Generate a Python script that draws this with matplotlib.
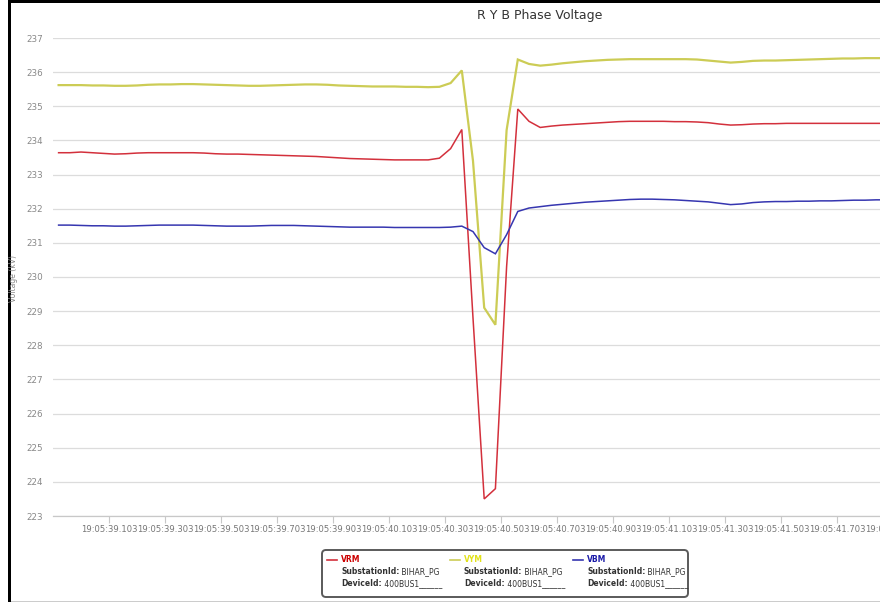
import matplotlib
matplotlib.use("Agg")
import matplotlib.pyplot as plt
from matplotlib.patches import FancyBboxPatch, Rectangle
import numpy as np

# PMU phase voltages (kV), one sample every 40 ms from 19:05:38.903
vrm = [233.64, 233.64, 233.66, 233.64, 233.62, 233.60, 233.61, 233.63, 233.64, 233.64,
       233.64, 233.64, 233.64, 233.63, 233.61, 233.60, 233.60, 233.59, 233.58, 233.57,
       233.56, 233.55, 233.54, 233.53, 233.51, 233.49, 233.47, 233.46, 233.45, 233.44,
       233.43, 233.43, 233.43, 233.43, 233.48, 233.76, 234.32, 228.80, 223.50, 223.80,
       230.30, 234.92, 234.56, 234.38, 234.42, 234.45, 234.47, 234.49, 234.51, 234.53,
       234.55, 234.56, 234.56, 234.56, 234.56, 234.55, 234.55, 234.54, 234.52, 234.48,
       234.45, 234.46, 234.48, 234.49, 234.49, 234.50, 234.50, 234.50, 234.50, 234.50,
       234.50, 234.50, 234.50, 234.50, 234.50, 234.50]

vym = [235.62, 235.62, 235.62, 235.61, 235.61, 235.60, 235.60, 235.61, 235.63, 235.64,
       235.64, 235.65, 235.65, 235.64, 235.63, 235.62, 235.61, 235.60, 235.60, 235.61,
       235.62, 235.63, 235.64, 235.64, 235.63, 235.61, 235.60, 235.59, 235.58, 235.58,
       235.58, 235.57, 235.57, 235.56, 235.57, 235.68, 236.05, 233.40, 229.10, 228.60,
       234.30, 236.37, 236.24, 236.19, 236.22, 236.26, 236.29, 236.32, 236.34, 236.36,
       236.37, 236.38, 236.38, 236.38, 236.38, 236.38, 236.38, 236.37, 236.34, 236.31,
       236.28, 236.30, 236.33, 236.34, 236.34, 236.35, 236.36, 236.37, 236.38, 236.39,
       236.40, 236.40, 236.41, 236.41, 236.41, 236.41]

vbm = [231.52, 231.52, 231.51, 231.50, 231.50, 231.49, 231.49, 231.50, 231.51, 231.52,
       231.52, 231.52, 231.52, 231.51, 231.50, 231.49, 231.49, 231.49, 231.50, 231.51,
       231.51, 231.51, 231.50, 231.49, 231.48, 231.47, 231.46, 231.46, 231.46, 231.46,
       231.45, 231.45, 231.45, 231.45, 231.45, 231.46, 231.49, 231.33, 230.86, 230.68,
       231.24, 231.92, 232.02, 232.06, 232.10, 232.13, 232.16, 232.19, 232.21, 232.23,
       232.25, 232.27, 232.28, 232.28, 232.27, 232.26, 232.24, 232.22, 232.20, 232.16,
       232.12, 232.14, 232.18, 232.20, 232.21, 232.21, 232.22, 232.22, 232.23, 232.23,
       232.24, 232.25, 232.25, 232.26, 232.26, 232.26]

tick_labels = ["19:05:39.103", "19:05:39.303", "19:05:39.503", "19:05:39.703",
               "19:05:39.903", "19:05:40.103", "19:05:40.303", "19:05:40.503",
               "19:05:40.703", "19:05:40.903", "19:05:41.103", "19:05:41.303",
               "19:05:41.503", "19:05:41.703", "19:05:41.903"]

series_names = ["VRM", "VYM", "VBM"]
line_colors = ["#d3303c", "#cccc55", "#3636b0"]
name_colors = ["#cc0000", "#e2e21a", "#1a1aa8"]
substation_id = "BIHAR_PG"
device_id = "400BUS1______"

W, H = 880, 602
fig = plt.figure(figsize=(W / 100, H / 100), dpi=100)
fig.patch.set_facecolor("white")


def inch(x, y):
    # pixel position (from top-left) -> inches for dpi_scale_trans
    return x / 100, (H - y) / 100


# plot area: 11.2 px per sample, right side runs past the edge of the canvas
n = len(vrm)
ax = fig.add_axes([53 / W, (H - 516) / H, n * 11.2 / W, 478 / H])
x = np.arange(n)
for vals, c, lw in zip([vrm, vym, vbm], line_colors, [1.1, 1.6, 1.1]):
    ax.plot(x, vals, color=c, lw=lw, solid_joinstyle="miter")

ax.set_xlim(-0.5, n - 0.5)
ax.set_ylim(223, 237)
ax.set_yticks(np.arange(223, 238, 1))
ax.tick_params(axis="y", length=0, pad=7, labelsize=6.3, labelcolor="#888888")
ax.set_xticks([4.5 + 5 * k for k in range(len(tick_labels))])
ax.set_xticklabels(tick_labels)
ax.tick_params(axis="x", direction="out", length=5, width=0.8, color="#c8c8c8",
               pad=1.5, labelsize=6.1, labelcolor="#777777")
ax.grid(axis="y", color="#dcdcdc", lw=0.9)
ax.set_axisbelow(True)
for s in ["top", "right", "left"]:
    ax.spines[s].set_visible(False)
ax.spines["bottom"].set_color("#c8c8c8")
ax.spines["bottom"].set_linewidth(0.9)

fig.text(*inch(540, 16), "R Y B Phase Voltage", transform=fig.dpi_scale_trans,
         ha="center", va="center", fontsize=9, color="#333333")
fig.text(*inch(14, 279), "Voltage (kV)", transform=fig.dpi_scale_trans,
         ha="center", va="center", rotation=90, fontsize=5.5, color="#888888")

# legend box
bx, by, bw, bh = 322, 550, 366, 47
box = FancyBboxPatch(inch(bx, by + bh), bw / 100, bh / 100,
                     boxstyle="round,pad=0,rounding_size=0.04",
                     transform=fig.dpi_scale_trans, fc="white", ec="#5a5a5a", lw=1.4)
fig.add_artist(box)

col_x = [327, 450, 573]
for cx, name, lc, nc in zip(col_x, series_names, line_colors, name_colors):
    lx0, ly = inch(cx, 560)
    lx1, _ = inch(cx + 10, 560)
    fig.add_artist(plt.Line2D([lx0, lx1], [ly, ly], color=lc, lw=1.2,
                              transform=fig.dpi_scale_trans))
    fig.text(*inch(cx + 14, 560), name, transform=fig.dpi_scale_trans,
             ha="left", va="center", fontsize=5.5, fontweight="bold", color=nc)
    for row_y, key, val in [(572, "SubstationId:", substation_id),
                            (584, "DeviceId:", device_id)]:
        t = fig.text(*inch(cx + 14, row_y), key, transform=fig.dpi_scale_trans,
                     ha="left", va="center", fontsize=5.5, fontweight="bold",
                     color="#333333")
        fig.add_artist(plt.Annotation(" " + val, xy=(1, 0.5), xycoords=t,
                                      ha="left", va="center", fontsize=5.5,
                                      color="#333333"))

# screenshot frame: black edge on the left and top, grey line at the bottom
fig.add_artist(Rectangle((8 / W, 0), 3 / W, 1, transform=fig.transFigure,
                         color="black", lw=0))
fig.add_artist(Rectangle((8 / W, (H - 3) / H), 1, 3 / H, transform=fig.transFigure,
                         color="black", lw=0))
fig.add_artist(Rectangle((11 / W, 0), 1, 1.5 / H, transform=fig.transFigure,
                         color="#cccccc", lw=0))

fig.savefig("out.png", dpi=100)
